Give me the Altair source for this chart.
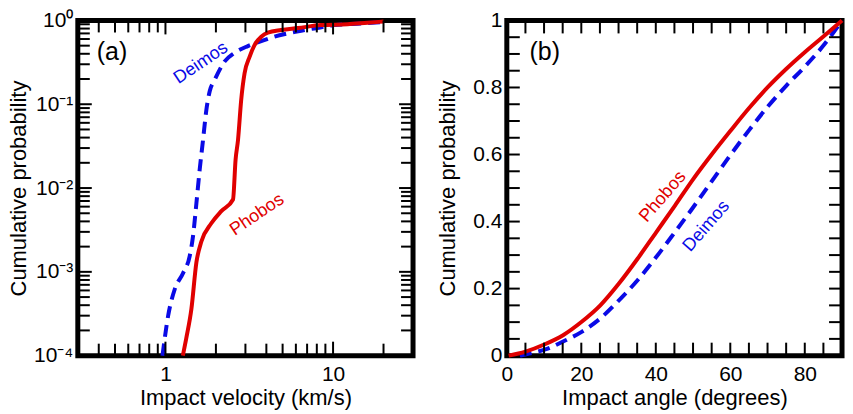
import altair as alt
import pandas as pd

# ---------------- Panel (a): impact velocity CDF (log-log) ----------------
phobos_vel = [1.27, 1.33, 1.428, 1.53, 1.638, 1.878, 2.154, 2.53, 2.62, 2.71, 2.83,
              2.965, 3.18, 3.40, 3.73, 4.08, 4.90, 6.17, 8.48, 12.2, 16.1, 20.0]
phobos_vel_cdf = [1e-4, 1.6e-4, 3.6e-4, 1.3e-3, 2.3e-3, 3.8e-3, 5.3e-3, 7.3e-3, 0.0217,
                  0.0376, 0.112, 0.234, 0.37, 0.508, 0.64, 0.714, 0.767, 0.81, 0.88,
                  0.90, 0.94, 0.97]

deimos_vel = [0.96, 1.037, 1.136, 1.275, 1.395, 1.46, 1.53, 1.6, 1.676, 1.754, 1.835,
              1.966, 2.25, 2.585, 3.1, 3.73, 4.47, 5.37, 6.45, 7.74, 10.2, 14.7, 20.0]
deimos_vel_cdf = [1e-4, 2.97e-4, 6.2e-4, 9.7e-4, 1.54e-3, 2.66e-3, 6.6e-3, 0.0165,
                  0.0376, 0.0855, 0.142, 0.195, 0.322, 0.41, 0.494, 0.567, 0.64, 0.70,
                  0.754, 0.803, 0.879, 0.921, 0.96]

# ---------------- Panel (b): impact angle CDF ----------------
phobos_angle = [0.5, 5.0, 10.2, 15.1, 20.1, 25.1, 30.1, 35.1, 40.1, 45.1, 50.0, 55.0,
                60.0, 65.0, 70.0, 75.0, 80.0, 85.0, 90.0]
phobos_angle_cdf = [0.0, 0.012, 0.034, 0.061, 0.101, 0.150, 0.215, 0.289, 0.368, 0.447,
                    0.526, 0.600, 0.670, 0.738, 0.800, 0.855, 0.905, 0.952, 1.0]

deimos_angle = [3.5, 5.5, 10.8, 15.1, 20.1, 25.1, 30.1, 35.1, 40.1, 45.1, 50.0, 55.0,
                60.0, 65.0, 70.0, 75.0, 80.0, 85.0, 90.0]
deimos_angle_cdf = [0.0, 0.005, 0.020, 0.042, 0.071, 0.111, 0.165, 0.225, 0.294, 0.368,
                    0.442, 0.520, 0.598, 0.672, 0.742, 0.805, 0.862, 0.925, 1.0]

# ---------------- axis ticks ----------------
vel_major = [1, 10]
vel_minor = [0.4, 0.5, 0.6, 0.7, 0.8, 0.9, 2, 3, 4, 5, 6, 7, 8, 9, 20]
vel_labels = [1, 10]
prob_major = [1e-4, 1e-3, 1e-2, 1e-1, 1]
prob_minor = [m * 10.0 ** e for e in (-4, -3, -2, -1) for m in range(2, 10)]
angle_ticks = list(range(5, 90, 5))
angle_labels = [0, 20, 40, 60, 80]
lin_prob_ticks = [round(0.05 * i, 2) for i in range(1, 20)]
lin_prob_labels = [0, 0.2, 0.4, 0.6, 0.8, 1]

W = H = 336
RED = "#e00000"
BLUE = "#0a0ae6"
FONT = "Liberation Sans"

vel_scale = alt.Scale(type="log", domain=[0.3, 30], nice=False)
prob_log_scale = alt.Scale(type="log", domain=[1e-4, 1], nice=False)
angle_scale = alt.Scale(domain=[0, 90], nice=False)
prob_lin_scale = alt.Scale(domain=[0, 1], nice=False)


def axis(title, values, **kw):
    return alt.Axis(title=title, values=values, domain=False, ticks=False, tickSize=0,
                    grid=False, labelFlush=False, labelOverlap=False,
                    labelFontSize=21, titleFontSize=22, titleFontWeight="normal",
                    titleBaseline="alphabetic", **kw)


class Panel:
    """Shared scales and axes for every layer of one framed panel."""

    def __init__(self, xscale, yscale, xaxis, yaxis):
        self.xscale, self.yscale = xscale, yscale
        self.xaxis, self.yaxis = xaxis, yaxis

    def x(self, field):
        return alt.X(f"{field}:Q", scale=self.xscale, axis=self.xaxis, title=self.xaxis.title)

    def y(self, field):
        return alt.Y(f"{field}:Q", scale=self.yscale, axis=self.yaxis, title=self.yaxis.title)

    def ticks(self, values, channel, length):
        """Inward-pointing tick marks on both opposite sides of the frame."""
        base = alt.Chart(pd.DataFrame({"t": values})).mark_rule(color="black",
                                                                 strokeWidth=2)
        if channel == "x":
            enc = self.x("t")
            return [base.encode(x=enc, y=alt.value(H), y2=alt.value(H - length)),
                    base.encode(x=enc, y=alt.value(0), y2=alt.value(length))]
        enc = self.y("t")
        return [base.encode(y=enc, x=alt.value(0), x2=alt.value(length)),
                base.encode(y=enc, x=alt.value(W), x2=alt.value(W - length))]

    def curve(self, xs, ys, color, dash=None):
        df = pd.DataFrame({"xv": xs, "yv": ys})
        kw = dict(color=color, strokeWidth=4, interpolate="monotone")
        if dash:
            kw["strokeDash"] = dash
        return alt.Chart(df).mark_line(**kw).encode(x=self.x("xv"), y=self.y("yv"))

    def label(self, xv, yv, text, color, angle, size):
        df = pd.DataFrame({"xv": [xv], "yv": [yv], "text": [text]})
        return alt.Chart(df).mark_text(color=color, angle=angle, fontSize=size, font=FONT,
                                       align="center", baseline="middle").encode(
            x=self.x("xv"), y=self.y("yv"), text="text:N")


# ---- panel (a)
log_label_expr = ("datum.value > 0.5 ? '10⁰' : datum.value > 0.05 ? '10⁻¹' : "
                  "datum.value > 0.005 ? '10⁻²' : datum.value > 0.0005 ? '10⁻³' : '10⁻⁴'")
pa = Panel(vel_scale, prob_log_scale,
           axis("Impact velocity (km/s)", vel_labels, format="~f", labelPadding=8,
                titleY=49),
           axis("Cumulative probability", prob_major, labelExpr=log_label_expr,
                labelPadding=5, titleX=-52))

panel_a = alt.layer(
    pa.curve(deimos_vel, deimos_vel_cdf, BLUE, dash=[12, 7]),
    pa.curve(phobos_vel, phobos_vel_cdf, RED),
    *pa.ticks(vel_major, "x", 14),
    *pa.ticks(vel_minor, "x", 12),
    *pa.ticks(prob_major, "y", 14),
    *pa.ticks(prob_minor, "y", 12),
    pa.label(1.63, 0.31, "Deimos", BLUE, 326, 18),
    pa.label(3.52, 0.0048, "Phobos", RED, 326, 18),
    pa.label(0.48, 0.42, "(a)", "black", 0, 25),
).properties(width=W, height=H)

# ---- panel (b)
pb = Panel(angle_scale, prob_lin_scale,
           axis("Impact angle (degrees)", angle_labels, format="~f", labelPadding=8,
                titleY=49),
           axis("Cumulative probability", lin_prob_labels, format="~f", labelPadding=5,
                titleX=-52))

panel_b = alt.layer(
    pb.curve(deimos_angle, deimos_angle_cdf, BLUE, dash=[12, 7]),
    pb.curve(phobos_angle, phobos_angle_cdf, RED),
    *pb.ticks(angle_ticks, "x", 13),
    *pb.ticks(lin_prob_ticks, "y", 13),
    pb.label(41.9, 0.474, "Phobos", RED, 311, 18),
    pb.label(53.6, 0.386, "Deimos", BLUE, 311, 18),
    pb.label(10.2, 0.905, "(b)", "black", 0, 25),
).properties(width=W, height=H)

chart = (
    alt.hconcat(panel_a, panel_b, spacing=94, bounds="flush")
    .properties(padding={"left": 5, "top": 6, "right": 0, "bottom": 0},
                background="white")
    .configure_view(stroke="black", strokeWidth=5)
    .configure_axis(labelFont=FONT, titleFont=FONT, labelColor="black",
                    titleColor="black")
)

chart.save("out.html", embed_options={"renderer": "svg", "actions": False})
